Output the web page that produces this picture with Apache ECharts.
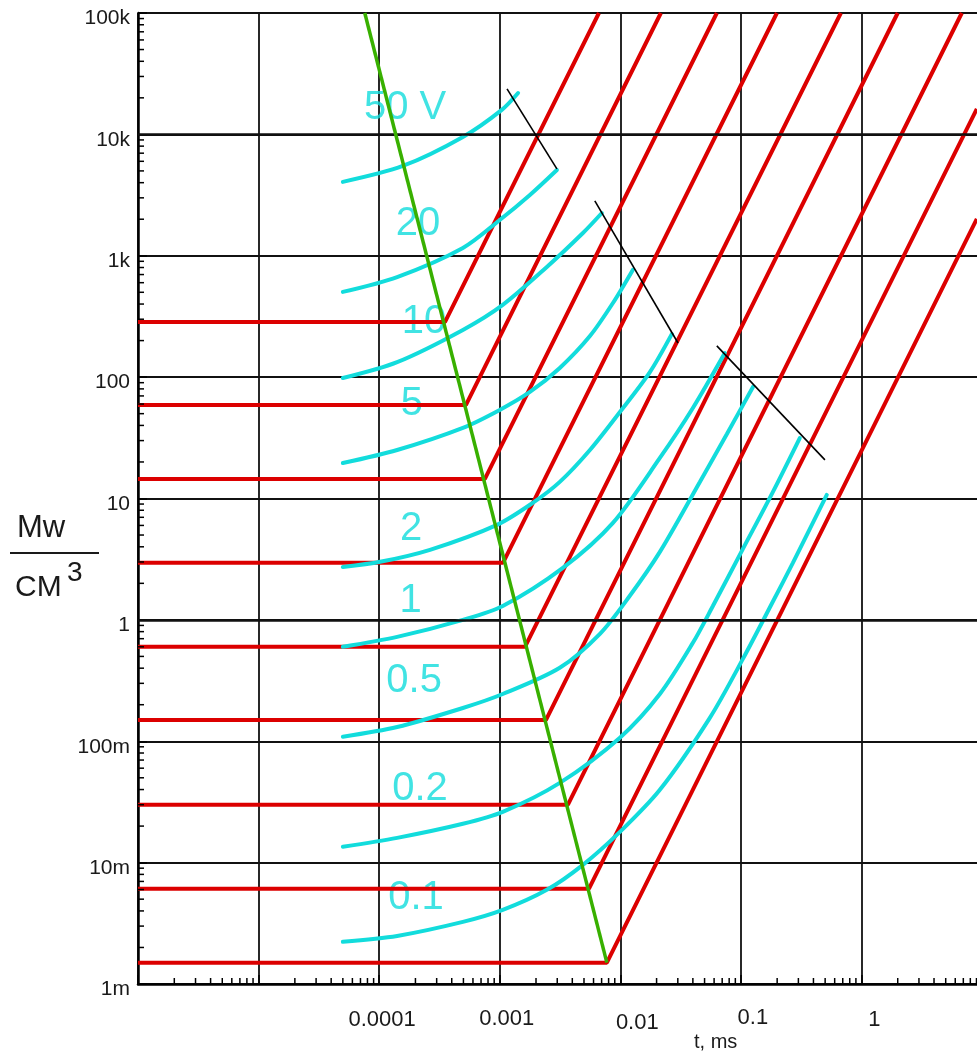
<!DOCTYPE html>
<html>
<head>
<meta charset="utf-8">
<script src="https://cdn.jsdelivr.net/npm/echarts@6/dist/echarts.min.js"></script>
<style>html,body{margin:0;padding:0;background:#fff}#c{width:977px;height:1055px}</style>
</head>
<body>
<div id="c"></div>
<script>
// ---------- DATA ----------
// tick labels, one per decade
const xTickLabels = ['', '', '0.0001', '0.001', '0.01', '0.1', '1', ''];          // 1e-6 .. 10
const yTickLabels = ['1m', '10m', '100m', '1', '10', '100', '1k', '10k', '100k']; // 1e-3 .. 1e5
const xAxisTitle = 't, ms';
const boldGridLevels = [1e4, 1];   // grid lines drawn a little heavier in the original

// green limiting line (t, P)
const greenLine = [[7.6e-5, 1e5], [7.74e-3, 1.5e-3]];

// red lines: horizontal level, knee on green line, end of the rising part
const redLevels = [285, 59, 14.5, 2.95, 0.6, 0.15, 0.03, 0.0061, 0.0015];
const redKnees = [3.52e-4, 5.25e-4, 7.53e-4, 1.064e-3, 1.62e-3, 2.42e-3, 3.68e-3, 5.5e-3, 7.74e-3];
const redEnds = [[6.65e-3, 1e5], [0.0217, 1e5], [0.0632, 1e5], [0.199, 1e5], [0.675, 1e5],
                 [2.0, 1e5], [6.8, 1e5], [9.06, 16200], [9.06, 2010]];

// cyan curves, one per voltage
const curve50V = [[5e-5, 4060], [1.57e-4, 5490], [4.95e-4, 9520], [1.04e-3, 15900], [1.42e-3, 21900]];
const curve20V = [[5e-5, 504], [1.41e-4, 668], [4.95e-4, 1160], [1.0e-3, 1970], [1.78e-3, 3170], [2.98e-3, 5090]];
const curve10V = [[5e-5, 98.4], [1.41e-4, 133], [4.95e-4, 245], [1.06e-3, 394], [2.46e-3, 809], [4.9e-3, 1540], [7.03e-3, 2250]];
const curve5V = [[5e-5, 19.6], [1.41e-4, 25.1], [4.95e-4, 38.2], [1e-3, 53.7], [1.78e-3, 75.5], [3.15e-3, 119], [5.6e-3, 218], [8.69e-3, 408], [0.0127, 764]];
const curve2V = [[5e-5, 2.73], [1.02e-4, 3.01], [2.64e-4, 3.78], [9.5e-4, 6.07], [1.88e-3, 9.2], [3.15e-3, 13.7], [5.6e-3, 25.1], [9.93e-3, 51.6], [0.0176, 110], [0.0268, 227]];
const curve1V = [[5e-5, 0.60], [1.41e-4, 0.724], [4.95e-4, 1.0], [1.06e-3, 1.30], [3.34e-3, 2.68], [8.69e-3, 6.30], [0.0213, 21.6], [0.04, 55.7], [0.0736, 158]];
const curve05V = [[5e-5, 0.109], [1.41e-4, 0.131], [4.95e-4, 0.188], [1.06e-3, 0.245], [3.15e-3, 0.403], [6.78e-3, 0.767], [0.012, 1.58], [0.0213, 3.63], [0.0457, 13.7], [0.0766, 34.0], [0.126, 83.0]];
const curve02V = [[5e-5, 0.0135], [1.41e-4, 0.016], [4.95e-4, 0.0209], [1.06e-3, 0.0262], [3.15e-3, 0.0454], [9.93e-3, 0.107], [0.0213, 0.245], [0.04, 0.647], [0.0586, 1.30], [0.104, 3.85], [0.184, 11.3], [0.308, 31.5]];
const curve01V = [[5e-5, 0.00223], [1.41e-4, 0.00249], [4.95e-4, 0.00325], [1.06e-3, 0.00408], [2.46e-3, 0.00597], [4.9e-3, 0.00959], [9.93e-3, 0.0179], [0.0213, 0.0398], [0.0553, 0.156], [0.104, 0.477], [0.184, 1.41], [0.27, 2.95], [0.516, 10.7]];

// black boundary segments
const limitLine1 = [[1.15e-3, 23700], [2.98e-3, 5190]];
const limitLine2 = [[6.15e-3, 2830], [0.0301, 191]];
const limitLine3 = [[0.0632, 181], [0.498, 20.8]];

// voltage labels and where they sit (t, P)
const voltageLabels = ['50 V', '20', '10', '5', '2', '1', '0.5', '0.2', '0.1'];
const voltageLabelAt = [[1.64e-4, 16500], [2.10e-4, 1830], [2.35e-4, 285], [1.87e-4, 60.1], [1.84e-4, 5.62],
                        [1.82e-4, 1.43], [1.95e-4, 0.315], [2.18e-4, 0.0406], [2.02e-4, 0.00513]];

// ---------- CHART ----------
const FONT = '"Liberation Sans", Arial, sans-serif';
const RED = '#dc0000', CYAN = '#12dcdc', GREEN = '#38b000', INK = '#1a1a1a';
const X_MIN = 1e-6, X_MAX = 10, Y_MIN = 1e-3, Y_MAX = 1e5;
const lg = v => Math.round(Math.log(v) / Math.LN10);

const cyanCurves = [curve50V, curve20V, curve10V, curve5V, curve2V, curve1V, curve05V, curve02V, curve01V];
const limitLines = [limitLine1, limitLine2, limitLine3];

// minor tick values (2..9 in each decade)
const xMinor = [], yMinor = [];
for (let k = lg(X_MIN); k < lg(X_MAX); k++) for (let d = 2; d <= 9; d++) xMinor.push([d * Math.pow(10, k), Y_MIN]);
for (let k = lg(Y_MIN); k < lg(Y_MAX); k++) for (let d = 2; d <= 9; d++) yMinor.push([X_MIN, d * Math.pow(10, k)]);

// per-label nudges of the x tick labels: [left pad, top pad]
const xLabelNudge = [null, null, [6, 4], [14, 2], [34, 9], [24, 0], [26, 3]];
const xRich = {};
xLabelNudge.forEach((n, i) => {
  if (n) xRich['l' + i] = {fontSize: 22, fontFamily: FONT, color: INK, lineHeight: 24, padding: [n[1], 0, 0, n[0]]};
});
const yRich = {a: {fontSize: 21, fontFamily: FONT, color: INK, lineHeight: 24, padding: [11, 0, 0, 0]}};

const series = [];
series.push({
  type: 'line', z: 1, silent: true, data: [],
  markLine: {
    silent: true, symbol: 'none', label: {show: false}, animation: false,
    lineStyle: {color: '#111', width: 2.6, type: 'solid'},
    data: boldGridLevels.map(v => ({yAxis: v}))
  }
});
redLevels.forEach((p, i) => {
  series.push({
    type: 'line', z: 3, silent: true, symbol: 'none',
    lineStyle: {color: RED, width: 4},
    data: [[X_MIN, p], [redKnees[i], p], redEnds[i]]
  });
});
cyanCurves.forEach(c => {
  series.push({
    type: 'line', z: 4, silent: true, symbol: 'none', smooth: 0.3,
    lineStyle: {color: CYAN, width: 4, cap: 'round'},
    data: c
  });
});
series.push({
  type: 'line', z: 5, silent: true, symbol: 'none',
  lineStyle: {color: GREEN, width: 3.5},
  data: greenLine
});
limitLines.forEach(l => {
  series.push({
    type: 'line', z: 5, silent: true, symbol: 'none',
    lineStyle: {color: '#000', width: 1.6},
    data: l
  });
});
series.push({
  type: 'scatter', z: 2, silent: true, symbolSize: 1, itemStyle: {color: 'rgba(0,0,0,0)'},
  label: {show: true, position: 'inside', formatter: p => p.name, color: CYAN, fontSize: 40, fontFamily: FONT},
  data: voltageLabels.map((n, i) => ({name: n, value: voltageLabelAt[i]}))
});
series.push({
  type: 'custom', z: 6, silent: true, clip: false,
  renderItem: (params, api) => {
    const p = api.coord([api.value(0), api.value(1)]);
    return {type: 'line', shape: {x1: p[0], y1: p[1], x2: p[0], y2: p[1] - 6}, style: {stroke: '#000', lineWidth: 1.5}};
  },
  data: xMinor
});
series.push({
  type: 'custom', z: 6, silent: true, clip: false,
  renderItem: (params, api) => {
    const p = api.coord([api.value(0), api.value(1)]);
    return {type: 'line', shape: {x1: p[0], y1: p[1], x2: p[0] + 6, y2: p[1]}, style: {stroke: '#000', lineWidth: 1.5}};
  },
  data: yMinor
});

const option = {
  animation: false,
  backgroundColor: '#fff',
  grid: {left: 138, top: 13, width: 844, height: 971, containLabel: false, outerBoundsMode: 'none'},
  xAxis: {
    type: 'log', logBase: 10, min: X_MIN, max: X_MAX,
    axisLine: {show: true, onZero: false, lineStyle: {color: '#000', width: 2.5}},
    axisTick: {show: true, inside: true, length: 9, lineStyle: {color: '#000', width: 1.5}},
    splitLine: {show: true, lineStyle: {color: '#111', width: 1.8}},
    axisLabel: {
      margin: 22, rich: xRich, hideOverlap: false,
      formatter: v => {
        const i = lg(v) - lg(X_MIN);
        const s = xTickLabels[i];
        return s ? '{l' + i + '|' + s + '}' : '';
      }
    }
  },
  yAxis: {
    type: 'log', logBase: 10, min: Y_MIN, max: Y_MAX,
    axisLine: {show: true, onZero: false, lineStyle: {color: '#000', width: 2.5}},
    axisTick: {show: true, inside: true, length: 9, lineStyle: {color: '#000', width: 1.5}},
    splitLine: {show: true, lineStyle: {color: '#111', width: 1.8}},
    axisLabel: {
      margin: 8, rich: yRich, hideOverlap: false,
      formatter: v => {
        const s = yTickLabels[lg(v) - lg(Y_MIN)];
        return s ? '{a|' + s + '}' : '';
      }
    }
  },
  graphic: [
    {type: 'text', left: 17, top: 513, style: {text: 'Mw', font: '31px ' + FONT, fill: INK}},
    {type: 'line', shape: {x1: 10, y1: 553, x2: 99, y2: 553}, style: {stroke: INK, lineWidth: 2}},
    {type: 'text', left: 15, top: 573, style: {text: 'CM', font: '30px ' + FONT, fill: INK}},
    {type: 'text', left: 67, top: 559, style: {text: '3', font: '28px ' + FONT, fill: INK}},
    {type: 'text', left: 694, top: 1032, style: {text: xAxisTitle, font: '20px ' + FONT, fill: INK}}
  ],
  series: series
};
const chart = echarts.init(document.getElementById('c'), null, {renderer: 'canvas'});
chart.setOption(option);
</script>
</body>
</html>
